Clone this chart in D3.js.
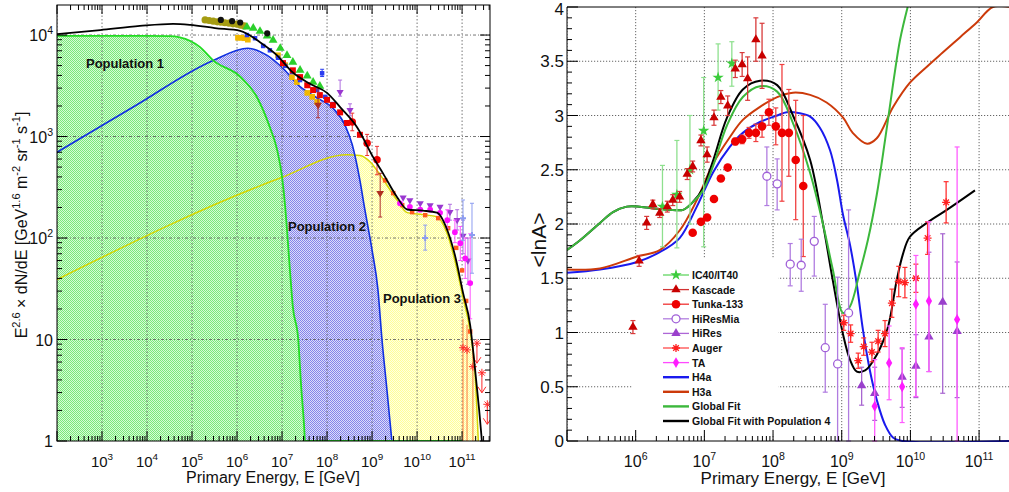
<!DOCTYPE html>
<html>
<head>
<meta charset="utf-8">
<script src="https://cdn.jsdelivr.net/npm/d3@7"></script>
<style>
  body { margin: 0; background: #fff; }
  text { font-family: "Liberation Sans", Arial, sans-serif; fill: #111; }
</style>
</head>
<body>
<svg id="chart" width="1009" height="492"></svg>
<script>
// ================= DATA =================
// Left panel model curves: [log10 E/GeV, E^2.6 dN/dE]
const pop1Curve = [[2.0,9800],[4.0,9800],[4.5,9750],[4.73,9500],[5.18,7600],[5.47,5620],[6.07,3890],[6.44,2450],[6.73,1230],[6.89,740],[7.0,400],[7.07,203],[7.12,105],[7.18,45],[7.24,21],[7.36,10],[7.42,3.7],[7.49,1.4],[7.51,1],[11.0,1]];
const pop2Curve = [[2.0,700],[3.73,2000],[5.47,5620],[6.24,7400],[6.67,6300],[7.02,4700],[7.4,3100],[7.78,2400],[8.13,1900],[8.4,1290],[8.56,830],[8.73,370],[8.84,190],[9.0,76],[9.13,31],[9.22,10],[9.33,3.2],[9.44,1]];
const pop3Curve = [[2.0,39],[6.96,390],[8.44,660],[8.73,650],[8.96,560],[9.13,450],[9.56,235],[9.78,178],[10.13,170],[10.44,162],[10.67,110],[10.84,60],[11.02,26],[11.18,12],[11.29,4.5],[11.36,1]];
const totalCurve = [[2.0,10200],[2.96,11200],[3.84,12300],[4.58,12900],[4.96,12600],[5.51,11700],[6.07,11000],[6.51,8500],[6.89,6300],[7.24,4270],[7.62,3310],[8.0,2690],[8.29,1950],[8.67,1230],[9.02,630],[9.24,436],[9.56,251],[9.78,191],[10.13,186],[10.44,178],[10.67,120],[10.84,68],[11.02,29],[11.18,13.8],[11.29,5],[11.38,2.0],[11.44,1]];

// Left panel measurements: [log10 E, flux] or [log10 E, flux, low, high]
const olivePts = [[5.29,14100],[5.38,13900],[5.47,13700],[5.56,13500],[5.64,13400],[5.73,13200],[5.82,13100],[5.91,12900],[6.0,12800],[6.08,12500],[6.16,12300]];
const blackPts = [[5.64,14100],[5.89,13700],[6.07,13300],[6.67,10400]];
const greenPts = [[6.22,12000],[6.36,11700],[6.51,10900],[6.67,9800],[6.8,8900],[6.96,7400],[7.11,6300],[7.24,5400],[7.4,4500],[7.56,3960],[7.69,3440],[7.84,3130]];
const goldPts = [[6.02,9400],[6.09,9400],[6.16,9300],[6.24,9000],[6.91,6320],[7.07,5050],[7.22,3850],[7.33,3440],[7.56,2690],[7.67,2460],[7.78,2190]];
const bluePts = [[6.22,10000],[6.4,9300],[6.58,7800],[6.73,7070],[6.91,5970],[7.07,4970],[7.22,4320],[7.4,3600],[7.58,3200],[7.78,2870],[7.96,2460],[8.13,2090],[7.89,4200,3900,4600]];
const redPts = [[7.02,5290],[7.24,4490],[7.4,3850],[7.56,3200],[7.69,2870],[7.84,2560],[8.0,2300],[8.13,2040],[8.29,1730],[8.44,1360],[8.73,1040]];
const redBigPts = [[8.56,1390,1140,1700],[8.89,860,650,1050],[9.11,590,420,800]];
const darkRedPts = [[7.8,2040,1530,2960],[9.18,277,161,434]];
const purplePts = [[8.29,2750,2500,3600],[8.51,1820,1600,2100],[9.69,250],[9.84,235],[10.07,220],[10.29,210],[10.51,203],[10.73,180,150,215],[10.89,150,120,190],[11.02,105,70,150],[11.13,60,35,100]];
const magentaPts = [[9.62,220],[9.84,203],[10.07,190],[10.29,190],[10.51,177],[10.67,150,125,190],[10.84,114,90,150],[10.96,89,60,130],[11.07,63,40,100],[11.18,36,16,110]];
const orangePts = [[9.29,370],[9.47,277],[9.67,211],[9.89,180],[10.18,168],[10.47,157],[10.69,125],[10.87,80],[11.0,48],[11.09,24],[11.18,12]];
const lightBluePts = [[10.18,100,76,134],[11.02,157,95,237],[11.22,107,45,220]];
const redStarPts = [[11.02,8.3,1,16],[11.11,7.9,1,14],[11.24,5.4,1,9]];
const redLimitPts = [[11.33,9.2],[11.44,4.7],[11.56,2.3]];

// Right panel model curves: [log10 E, <lnA>]
const h4aCurve = [[5.0,1.55],[5.48,1.58],[6.02,1.65],[6.35,1.74],[6.64,1.87],[6.89,2.16],[7.13,2.48],[7.37,2.71],[7.56,2.84],[7.81,2.94],[8.06,3.0],[8.2,3.03],[8.39,3.02],[8.54,2.99],[8.68,2.89],[8.83,2.68],[8.93,2.41],[9.02,2.08],[9.12,1.81],[9.22,1.44],[9.31,1.02],[9.41,0.65],[9.51,0.38],[9.63,0.15],[9.75,0.03],[9.89,0],[11.45,0]];
const h3aCurve = [[5.0,1.58],[5.48,1.59],[6.02,1.70],[6.35,1.76],[6.64,1.94],[6.89,2.22],[7.13,2.56],[7.37,2.80],[7.56,2.96],[7.81,3.08],[8.06,3.17],[8.29,3.21],[8.54,3.19],[8.78,3.12],[9.02,2.98],[9.16,2.84],[9.37,2.74],[9.51,2.79],[9.75,3.08],[9.99,3.30],[10.24,3.45],[10.47,3.58],[10.72,3.72],[10.97,3.86],[11.2,4.0],[11.45,4.0]];
const globalFitCurve = [[5.0,1.76],[5.19,1.85],[5.48,2.01],[5.67,2.11],[5.87,2.16],[6.06,2.16],[6.31,2.14],[6.54,2.13],[6.69,2.13],[6.83,2.2],[6.98,2.31],[7.13,2.54],[7.33,2.91],[7.56,3.17],[7.81,3.27],[8.06,3.22],[8.29,2.93],[8.54,2.47],[8.73,1.99],[8.87,1.58],[9.02,1.18],[9.12,1.24],[9.26,1.55],[9.38,1.85],[9.51,2.27],[9.63,2.77],[9.75,3.30],[9.85,3.70],[9.96,4.0]];
const globalFitPop4Curve = [[5.0,1.76],[5.19,1.85],[5.48,2.01],[5.67,2.11],[5.87,2.16],[6.06,2.16],[6.31,2.14],[6.54,2.13],[6.69,2.13],[6.83,2.2],[6.98,2.33],[7.13,2.59],[7.33,2.98],[7.56,3.24],[7.81,3.32],[8.06,3.28],[8.29,3.0],[8.54,2.59],[8.73,1.99],[8.87,1.48],[9.02,0.98],[9.12,0.75],[9.22,0.64],[9.34,0.65],[9.45,0.73],[9.66,1.02],[9.8,1.48],[9.89,1.72],[9.99,1.88],[10.24,2.01],[10.53,2.13],[10.94,2.31]];

// Right panel measurements: [log10 E, <lnA>, err] or [log10 E, <lnA>, low, high]
const ic40Data = [[6.39,2.16,1.79,2.54],[6.60,2.27,1.78,2.77],[6.79,2.50,2.0,3.0],[6.99,2.86,1.79,3.35],[7.20,3.35,3.05,3.66],[7.40,3.48,3.27,3.68]];
const kascadeData = [[5.96,1.05,0.06],[6.05,1.66,0.05],[6.16,2.01,0.06],[6.25,2.18,0.04],[6.35,2.10,0.04],[6.46,2.16,0.05],[6.54,2.22,0.05],[6.64,2.25,0.05],[6.75,2.46,0.05],[6.83,2.53,0.05],[6.95,2.77,0.05],[7.04,2.64,0.07],[7.14,2.98,0.07],[7.24,3.17,0.06],[7.34,3.09,0.09],[7.45,3.43,0.08],[7.55,3.47,0.11],[7.63,3.34,0.2],[7.75,3.70,0.2],[7.84,3.55,0.3]];
const tunkaData = [[6.83,1.92,0],[6.95,2.02,0],[7.04,2.06,0],[7.14,2.23,0],[7.24,2.42,0],[7.34,2.52,0],[7.45,2.76,0.03],[7.55,2.78,0.04],[7.65,2.84,0.05],[7.75,2.84,0.08],[7.84,2.90,0.1],[7.94,3.03,0.12],[8.04,2.90,0.17],[8.13,2.84,0.63],[8.23,2.84,0.4],[8.33,2.59,0.55],[8.44,2.35,0.65]];
const hiresMiaData = [[7.91,2.44,2.17,2.71],[8.06,2.37,2.13,2.60],[8.25,1.63,1.43,1.82],[8.41,1.62,1.38,1.86],[8.60,1.84,1.52,2.07],[8.76,0.86,0.45,1.26],[8.94,0.71,0,1.51],[9.10,1.18,0,2.13]];
const hiresData = [[9.29,0.51,0.33,0.68],[9.48,0.44,0.19,0.68],[9.88,0.59,0.31,0.85],[10.08,0.69,0.40,0.98],[10.27,0.96,0.64,1.74],[10.47,1.28,0.44,1.91],[10.68,1.01,0.40,1.65]];
const augerData = [[9.03,1.09,0.07],[9.13,0.99,0.08],[9.24,0.74,0.07],[9.32,0.87,0.08],[9.44,0.82,0.09],[9.53,0.92,0.10],[9.63,0.99,0.12],[9.73,1.27,0.13],[9.83,1.47,0.14],[9.92,1.46,0.14],[10.08,1.50,0.13],[10.25,1.87,0.15],[10.52,2.20,0.19]];
const taData = [[9.48,0.32,0,0.75],[9.69,0.72,0.38,1.06],[9.88,0.50,0.17,0.86],[10.08,1.26,0.41,1.71],[10.27,1.29,0.64,2.02],[10.68,1.12,0,2.71]];

// tick labels
const leftXExps = [3,4,5,6,7,8,9,10,11];
const leftYTicks = [1,10,100,1000,10000];
const rightXExps = [6,7,8,9,10,11];
const rightYTicks = [0,0.5,1,1.5,2,2.5,3,3.5,4];
const legendNames = ["IC40/IT40","Kascade","Tunka-133","HiResMia","HiRes","Auger","TA","H4a","H3a","Global Fit","Global Fit with Population 4"];

// ================= DRAWING =================
const svg = d3.select("#chart");
svg.append("rect").attr("width",1009).attr("height",492).attr("fill","#fff");
const defs = svg.append("defs");

function dotPattern(id, bg, fg) {
  let p = defs.append("pattern").attr("id",id).attr("width",2).attr("height",2)
    .attr("patternUnits","userSpaceOnUse");
  p.append("rect").attr("width",2).attr("height",2).attr("fill",bg);
  p.append("rect").attr("width",1).attr("height",1).attr("fill",fg);
  p.append("rect").attr("x",1).attr("y",1).attr("width",1).attr("height",1).attr("fill",fg);
}
dotPattern("fillGreen","#d6fbd6","#7ae87a");
dotPattern("fillBlue","#dcdcfa","#8484ea");
dotPattern("fillYellow","#ffffe2","#ffff96");

function logTicks(scale) {
  let [a,b] = scale.domain(), major = [], minor = [];
  for (let d = Math.floor(Math.log10(a)); d <= Math.ceil(Math.log10(b)); d++) {
    for (let m = 1; m < 10; m++) {
      let v = m * Math.pow(10,d);
      if (v < a*0.999 || v > b*1.001) continue;
      (m === 1 ? major : minor).push(v);
    }
  }
  return {major, minor};
}

function powLabel(sel, e) {
  sel.append("tspan").text("10");
  sel.append("tspan").attr("dy",-7).attr("font-size","0.66em").text(e);
}

const E = d => Math.pow(10, d[0]);

// ---------- left panel ----------
const L = {x0:57, x1:490, y0:5, y1:441};
const xL = d3.scaleLog().domain([1e2, Math.pow(10,11.62)]).range([L.x0, L.x1]);
const yL = d3.scaleLog().domain([1, Math.pow(10,4.296)]).range([L.y1, L.y0]);

defs.append("clipPath").attr("id","clipL").append("rect")
  .attr("x",L.x0).attr("y",L.y0).attr("width",L.x1-L.x0).attr("height",L.y1-L.y0);

const gL = svg.append("g");
const plotL = gL.append("g").attr("clip-path","url(#clipL)");

const areaL = d3.area().curve(d3.curveMonotoneX)
  .x(d => xL(E(d))).y0(L.y1).y1(d => yL(Math.max(1,d[1])));
const lineL = d3.line().curve(d3.curveMonotoneX)
  .x(d => xL(E(d))).y(d => yL(Math.max(1,d[1])));

plotL.append("path").attr("d",areaL(pop3Curve)).attr("fill","url(#fillYellow)");
plotL.append("path").attr("d",areaL(pop2Curve)).attr("fill","url(#fillBlue)");
plotL.append("path").attr("d",areaL(pop1Curve)).attr("fill","url(#fillGreen)");

// grid
let ltx = logTicks(xL), lty = logTicks(yL);
plotL.selectAll(".gx").data(ltx.major).enter().append("line")
  .attr("x1",d=>xL(d)).attr("x2",d=>xL(d)).attr("y1",L.y0).attr("y2",L.y1)
  .attr("stroke","#555").attr("stroke-width",0.8).attr("stroke-dasharray","1.5,2");
plotL.selectAll(".gy").data(lty.major.filter(v => v > 1)).enter().append("line")
  .attr("y1",d=>yL(d)).attr("y2",d=>yL(d)).attr("x1",L.x0).attr("x2",L.x1)
  .attr("stroke","#555").attr("stroke-width",0.8).attr("stroke-dasharray","3,2,1,2");

plotL.append("path").attr("d",lineL(pop3Curve)).attr("fill","none").attr("stroke","#d6d600").attr("stroke-width",1.5);
plotL.append("path").attr("d",lineL(pop2Curve)).attr("fill","none").attr("stroke","#1030e0").attr("stroke-width",1.6);
plotL.append("path").attr("d",lineL(pop1Curve)).attr("fill","none").attr("stroke","#22dd22").attr("stroke-width",1.8);

// measurements
function drawLeftSeries(data, color, shape, size, barColor) {
  let g = plotL.append("g");
  data.filter(d => d.length > 2).forEach(d => {
    let x = xL(E(d));
    g.append("line").attr("x1",x).attr("x2",x).attr("y1",yL(d[2])).attr("y2",yL(d[3]))
      .attr("stroke",barColor || color).attr("stroke-width",1);
    [d[2],d[3]].forEach(v => g.append("line").attr("x1",x-2).attr("x2",x+2)
      .attr("y1",yL(v)).attr("y2",yL(v)).attr("stroke",barColor || color));
  });
  g.selectAll("path.m").data(data).enter().append("path")
    .attr("transform", d => `translate(${xL(E(d))},${yL(d[1])})${shape === d3.symbolTriangle && size < 0 ? " rotate(180)" : ""}`)
    .attr("d", d3.symbol().type(shape).size(Math.abs(size)))
    .attr("fill", color);
}
drawLeftSeries(orangePts, "#ff5a1e", d3.symbolSquare, 20);
drawLeftSeries(olivePts, "#a59c12", d3.symbolCircle, 40);
drawLeftSeries(goldPts, "#f2b800", d3.symbolSquare, 32);
drawLeftSeries(greenPts, "#2bd02b", d3.symbolTriangle, 34);
drawLeftSeries(bluePts, "#2a3cf0", d3.symbolSquare, 20);
drawLeftSeries(blackPts, "#111", d3.symbolCircle, 30);
drawLeftSeries(redPts, "#ee0000", d3.symbolSquare, 36);
drawLeftSeries(redBigPts, "#ee0000", d3.symbolCircle, 44, "#ee3333");
drawLeftSeries(darkRedPts, "#b03020", d3.symbolTriangle, -26, "#b03030");
drawLeftSeries(purplePts, "#9a38d0", d3.symbolTriangle, -22, "#b070e0");
drawLeftSeries(magentaPts, "#ff10ff", d3.symbolCircle, 26, "#ff55ff");
drawLeftSeries(lightBluePts, "#8c9cf0", d3.symbolCross, 20);

// red stars with long bars and upper limits
let gStar = plotL.append("g").attr("stroke","#ff2a2a").attr("fill","none").attr("stroke-width",1);
function asterisk(x, y, r) {
  let k = r * 0.7;
  return `M${x-r},${y}L${x+r},${y}M${x},${y-r}L${x},${y+r}M${x-k},${y-k}L${x+k},${y+k}M${x-k},${y+k}L${x+k},${y-k}`;
}
redStarPts.forEach(d => {
  let x = xL(E(d)), y = yL(d[1]);
  gStar.append("line").attr("x1",x).attr("x2",x).attr("y1",yL(d[2])).attr("y2",yL(d[3])).attr("stroke","#ff7a3a");
  gStar.append("path").attr("d",asterisk(x,y,4));
});
redLimitPts.forEach(d => {
  let x = xL(E(d)), y = yL(d[1]);
  gStar.append("path").attr("d",asterisk(x,y,4));
  gStar.append("path").attr("d",`M${x},${y}L${x},${y+20}M${x-4},${y+14}L${x},${y+20}L${x+4},${y+14}`);
});

plotL.append("path").attr("d",lineL(totalCurve)).attr("fill","none").attr("stroke","#000").attr("stroke-width",1.8);

// population labels
[["Population 1",86,68],["Population 2",288,231],["Population 3",383,303]].forEach(p => {
  gL.append("text").attr("x",p[1]).attr("y",p[2]).attr("font-size",13).attr("font-weight","bold").text(p[0]);
});

// frame and ticks
gL.append("rect").attr("x",L.x0).attr("y",L.y0).attr("width",L.x1-L.x0).attr("height",L.y1-L.y0)
  .attr("fill","none").attr("stroke","#000").attr("stroke-width",1);
let tk = gL.append("g").attr("stroke","#000").attr("stroke-width",1);
ltx.major.concat(ltx.minor).forEach(v => {
  let x = xL(v), big = ltx.major.includes(v);
  tk.append("line").attr("x1",x).attr("x2",x).attr("y1",L.y1).attr("y2",L.y1-(big?10:5));
  tk.append("line").attr("x1",x).attr("x2",x).attr("y1",L.y0).attr("y2",L.y0+(big?9:5));
});
lty.major.concat(lty.minor).forEach(v => {
  let y = yL(v), big = lty.major.includes(v);
  tk.append("line").attr("x1",L.x0).attr("x2",L.x0+(big?10:5)).attr("y1",y).attr("y2",y);
  tk.append("line").attr("x1",L.x1).attr("x2",L.x1-(big?10:5)).attr("y1",y).attr("y2",y);
});
leftXExps.forEach(e => {
  let t = gL.append("text").attr("x",xL(Math.pow(10,e))).attr("y",467).attr("font-size",15).attr("text-anchor","middle");
  powLabel(t, e);
});
leftYTicks.forEach(v => {
  let t = gL.append("text").attr("x",53).attr("y",yL(v)+6).attr("font-size",16).attr("text-anchor","end");
  if (v >= 100) powLabel(t, Math.round(Math.log10(v))); else t.text(v);
});
gL.append("text").attr("x",273).attr("y",483).attr("font-size",16).attr("text-anchor","middle")
  .text("Primary Energy, E [GeV]");
let ty = gL.append("text").attr("transform","translate(27,225) rotate(-90)").attr("font-size",16).attr("text-anchor","middle");
[["E",0],["2.6",1],[" \u00d7 dN/dE [GeV",0],["1.6",1],[" m",0],["-2",1],[" sr",0],["-1",1],[" s",0],["-1",1],["]",0]].forEach((p,i,arr) => {
  let prevSup = i > 0 && arr[i-1][1];
  ty.append("tspan").attr("dy", p[1] ? -7 : (prevSup ? 7 : 0)).attr("font-size", p[1] ? 11 : 16).text(p[0]);
});

// ---------- right panel ----------
const R = {x0:567, x1:1010, y0:7, y1:441};
const xR = d3.scaleLog().domain([1e5, Math.pow(10,11.45)]).range([R.x0, R.x1]);
const yR = d3.scaleLinear().domain([0,4]).range([R.y1, R.y0]);
const gR = svg.append("g");
defs.append("clipPath").attr("id","clipR").append("rect")
  .attr("x",R.x0).attr("y",R.y0).attr("width",R.x1-R.x0).attr("height",R.y1-R.y0+1);
const plotR = gR.append("g").attr("clip-path","url(#clipR)");

let rtx = logTicks(xR);
plotR.selectAll(".gx").data(rtx.major).enter().append("line")
  .attr("x1",d=>xR(d)).attr("x2",d=>xR(d)).attr("y1",R.y0).attr("y2",R.y1)
  .attr("stroke","#666").attr("stroke-width",1).attr("stroke-dasharray","1.2,1.8");
plotR.selectAll(".gy").data(rightYTicks.filter(v => v > 0 && v < 4)).enter().append("line")
  .attr("y1",d=>yR(d)).attr("y2",d=>yR(d)).attr("x1",R.x0).attr("x2",R.x1)
  .attr("stroke","#666").attr("stroke-width",1).attr("stroke-dasharray","1.2,1.8");

// legend background hides the grid behind it
plotR.append("rect").attr("x",632).attr("y",258).attr("width",146).attr("height",176).attr("fill","#fff");

const lineR = d3.line().curve(d3.curveCatmullRom.alpha(0.5)).x(d => xR(E(d))).y(d => yR(d[1]));
const curvesR = [
  [h4aCurve, "#1a1aee"],
  [h3aCurve, "#cc3a0a"],
  [globalFitPop4Curve, "#000"],
  [globalFitCurve, "#3cb83c"]
];
curvesR.forEach(c => plotR.append("path").attr("d",lineR(c[0])).attr("fill","none")
  .attr("stroke",c[1]).attr("stroke-width",2));

// marker helper
function marker(g, kind, x, y, color) {
  if (kind === "star") g.append("path").attr("transform",`translate(${x},${y})`)
    .attr("d",d3.symbol().type(d3.symbolStar).size(40)).attr("fill",color);
  else if (kind === "tri") g.append("path").attr("transform",`translate(${x},${y})`)
    .attr("d",d3.symbol().type(d3.symbolTriangle).size(38)).attr("fill",color);
  else if (kind === "dot") g.append("circle").attr("cx",x).attr("cy",y).attr("r",4.3).attr("fill",color);
  else if (kind === "ring") g.append("circle").attr("cx",x).attr("cy",y).attr("r",4)
    .attr("fill","#fff").attr("stroke",color).attr("stroke-width",1.3);
  else if (kind === "diamond") g.append("path").attr("transform",`translate(${x},${y})`)
    .attr("d",d3.symbol().type(d3.symbolDiamond).size(34)).attr("fill",color);
  else if (kind === "aster") g.append("path").attr("d",asterisk(x,y,4))
    .attr("stroke",color).attr("stroke-width",1.3).attr("fill","none");
}

const seriesR = [
  {data: ic40Data, kind:"star", color:"#3ccc3c", bar:"#8ee08e"},
  {data: kascadeData, kind:"tri", color:"#c80000", bar:"#d83a3a"},
  {data: tunkaData, kind:"dot", color:"#ee0000", bar:"#f04040"},
  {data: hiresMiaData, kind:"ring", color:"#a060d8", bar:"#b07ce0"},
  {data: hiresData, kind:"tri", color:"#9a40cc", bar:"#a866d0"},
  {data: augerData, kind:"aster", color:"#ff2020", bar:"#ff3030"},
  {data: taData, kind:"diamond", color:"#ff1cff", bar:"#ff5cff"}
];
seriesR.forEach(s => {
  let g = plotR.append("g");
  s.data.forEach(d => {
    let lo = d.length === 3 ? d[1]-d[2] : d[2], hi = d.length === 3 ? d[1]+d[2] : d[3];
    let x = xR(E(d));
    if (hi - lo > 0.001) {
      g.append("line").attr("x1",x).attr("x2",x).attr("y1",yR(lo)).attr("y2",yR(hi))
        .attr("stroke",s.bar).attr("stroke-width",1.3);
      [lo,hi].forEach(v => g.append("line").attr("x1",x-2.5).attr("x2",x+2.5)
        .attr("y1",yR(v)).attr("y2",yR(v)).attr("stroke",s.bar).attr("stroke-width",1.2));
    }
  });
  s.data.forEach(d => marker(g, s.kind, xR(E(d)), yR(d[1]), s.color));
});

// legend
const lg = gR.append("g");
const legendStyle = [
  ["star","#3ccc3c"],["tri","#c80000"],["dot","#ee0000"],["ring","#a060d8"],["tri","#9a40cc"],
  ["aster","#ff2020"],["diamond","#ff1cff"],[null,"#1a1aee"],[null,"#cc3a0a"],[null,"#3cb83c"],[null,"#000"]
];
legendNames.forEach((name,i) => {
  let y = 275 + i*14.6, st = legendStyle[i];
  lg.append("line").attr("x1",663).attr("x2",689).attr("y1",y).attr("y2",y)
    .attr("stroke",st[1]).attr("stroke-width",st[0] ? 1.3 : 2.4).attr("opacity", st[0] ? 0.8 : 1);
  if (st[0]) marker(lg, st[0], 676, y, st[1]);
  lg.append("text").attr("x",692).attr("y",y+4).attr("font-size",10.5).attr("font-weight","bold")
    .attr("fill","#222").text(name);
});

// axes
gR.append("line").attr("x1",R.x0).attr("x2",R.x1).attr("y1",R.y0).attr("y2",R.y0).attr("stroke","#000");
gR.append("line").attr("x1",R.x0).attr("x2",R.x1).attr("y1",R.y1).attr("y2",R.y1).attr("stroke","#000");
gR.append("line").attr("x1",R.x0).attr("x2",R.x0).attr("y1",R.y0).attr("y2",R.y1).attr("stroke","#000");
let tkR = gR.append("g").attr("stroke","#000");
rtx.major.concat(rtx.minor).forEach(v => {
  let x = xR(v), big = rtx.major.includes(v);
  tkR.append("line").attr("x1",x).attr("x2",x).attr("y1",R.y1).attr("y2",R.y1-(big?11:5));
});
d3.range(0, 4.001, 0.1).forEach(v => {
  let big = Math.abs(v*2 - Math.round(v*2)) < 1e-6;
  tkR.append("line").attr("x1",R.x0).attr("x2",R.x0+(big?11:5)).attr("y1",yR(v)).attr("y2",yR(v));
});
rightXExps.forEach(e => {
  let t = gR.append("text").attr("x",xR(Math.pow(10,e))).attr("y",467).attr("font-size",16).attr("text-anchor","middle");
  powLabel(t, e);
});
rightYTicks.forEach(v => {
  gR.append("text").attr("x",564).attr("y",Math.max(15, yR(v)+6)).attr("font-size",17).attr("text-anchor","end").text(v);
});
gR.append("text").attr("x",793).attr("y",484).attr("font-size",17).attr("text-anchor","middle")
  .text("Primary Energy, E [GeV]");
gR.append("text").attr("transform","translate(546,240) rotate(-90)").attr("font-size",21)
  .attr("text-anchor","middle").text("<lnA>");
</script>
</body>
</html>
